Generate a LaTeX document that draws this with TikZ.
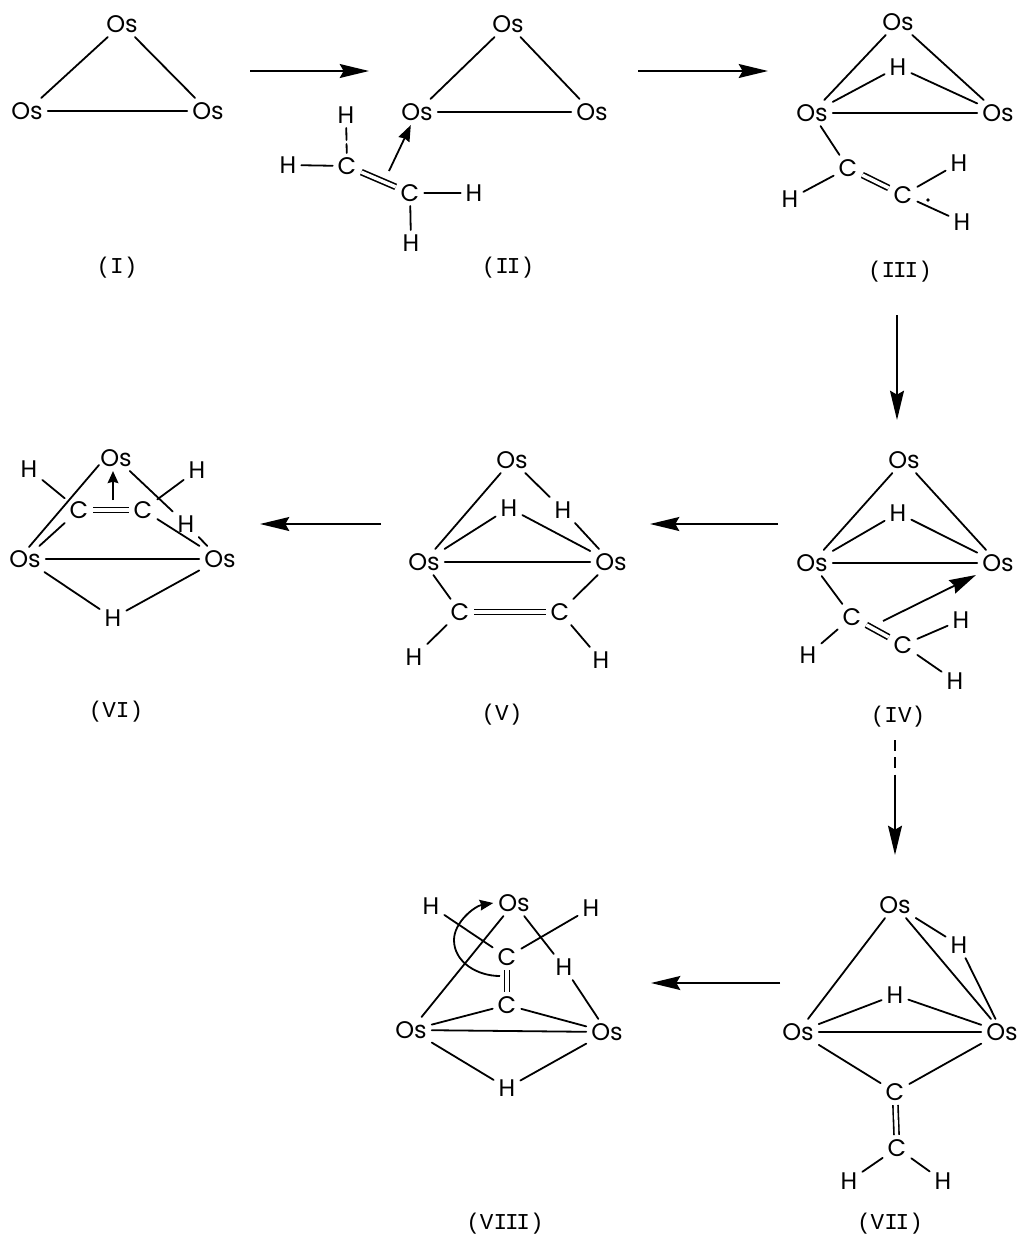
\documentclass[tikz,border=0pt]{standalone}
\usepackage{fontspec}
\setmainfont{Liberation Mono}
\newfontfamily\atomfont{Poppins}
\usetikzlibrary{arrows.meta}
\newcommand{\RN}{\kern-1.6pt}
\tikzset{
  x=0.75pt,y=-0.75pt,
  atom/.style={font=\atomfont\fontsize{18}{18}\selectfont,inner sep=3.8pt,outer sep=0pt,text height=12pt,text depth=0pt},
  lab/.style={font=\fontsize{17}{17}\selectfont,inner sep=0pt},
  bond/.style={line width=1.35pt,line cap=round},
  dbl/.style={line width=1.2pt,double,double distance=2.6pt},
  rxn/.style={line width=1.2pt,-{Stealth[length=22pt,width=10.5pt,inset=3pt]}},
  push/.style={line width=1.35pt,-{Stealth[length=12pt,width=9pt,inset=1pt]}},
}
\begin{document}
\begin{tikzpicture}
\useasboundingbox (0,0) rectangle (1021,1236);
% I
\node[atom] (It) at (122,24) {Os};
\node[atom] (Il) at (27,111) {Os};
\node[atom] (Ir) at (208,111) {Os};
\node[lab] (Ilab) at (117,268) {(I)};
\draw[bond] (Il)--(It); \draw[bond] (It)--(Ir); \draw[bond] (Il)--(Ir);
% arrow I-II
\coordinate (a1s) at (250,71); \coordinate (a1e) at (369,71);
\draw[rxn] (a1s)--(a1e);
% II
\node[atom] (IIt) at (508,24) {Os};
\node[atom] (IIl) at (417,112) {Os};
\node[atom] (IIr) at (592,112) {Os};
\node[atom] (IIc1) at (347,166) {C};
\node[atom] (IIc2) at (410,193) {C};
\node[atom] (IIh1) at (346,115) {H};
\node[atom] (IIh2) at (288,165) {H};
\node[atom] (IIh3) at (474,193) {H};
\node[atom] (IIh4) at (411,243) {H};
\node[lab] (IIlab) at (508,268) {(I\RN I)};
\draw[bond] (IIl)--(IIt); \draw[bond] (IIt)--(IIr); \draw[bond] (IIl)--(IIr);
\draw[dbl] (IIc1)--(IIc2);
\draw[bond,dash pattern=on 9pt off 3pt] (IIh1)--(IIc1);
\draw[bond] (IIh2)--(IIc1); \draw[bond] (IIc2)--(IIh3); \draw[bond] (IIc2)--(IIh4);
\coordinate (IIa) at (389,171);
\draw[push] (IIa)--(IIl);
% arrow II-III
\coordinate (a2s) at (638,71); \coordinate (a2e) at (768,71);
\draw[rxn] (a2s)--(a2e);
% III
\node[atom] (IIIt) at (898,22) {Os};
\node[atom] (IIIl) at (812,113) {Os};
\node[atom] (IIIr) at (998,113) {Os};
\node[atom] (IIIh) at (898,67) {H};
\node[atom] (IIIc1) at (848,168) {C};
\node[atom] (IIIc2) at (903,195) {C};
\node[atom] (IIIh1) at (959,163) {H};
\node[atom] (IIIh2) at (790,199) {H};
\node[atom] (IIIh3) at (962,222) {H};
\node[lab] (IIIlab) at (900,272) {(I\RN I\RN I)};
\draw[bond] (IIIl)--(IIIt); \draw[bond] (IIIt)--(IIIr); \draw[bond] (IIIl)--(IIIr);
\draw[bond] (IIIl)--(IIIh); \draw[bond] (IIIh)--(IIIr);
\draw[bond] (IIIl)--(IIIc1); \draw[dbl] (IIIc1)--(IIIc2);
\draw[bond] (IIIc1)--(IIIh2); \draw[bond] (IIIc2)--(IIIh1); \draw[bond] (IIIc2)--(IIIh3);
\coordinate (IIIdot) at (928,200);
\fill (IIIdot) circle (1.8);
% arrow III-IV
\coordinate (a3s) at (897,315); \coordinate (a3e) at (897,420);
\draw[rxn] (a3s)--(a3e);
% IV
\node[atom] (IVt) at (904,460) {Os};
\node[atom] (IVl) at (812,563) {Os};
\node[atom] (IVr) at (998,563) {Os};
\node[atom] (IVh) at (898,513) {H};
\node[atom] (IVc1) at (852,617) {C};
\node[atom] (IVc2) at (903,645) {C};
\node[atom] (IVh1) at (961,620) {H};
\node[atom] (IVh2) at (808,655) {H};
\node[atom] (IVh3) at (955,681) {H};
\node[lab] (IVlab) at (898,717) {(IV)};
\draw[bond] (IVl)--(IVt); \draw[bond] (IVt)--(IVr); \draw[bond] (IVl)--(IVr);
\draw[bond] (IVl)--(IVh); \draw[bond] (IVh)--(IVr);
\draw[bond] (IVl)--(IVc1); \draw[dbl] (IVc1)--(IVc2);
\draw[bond] (IVc1)--(IVh2); \draw[bond] (IVc2)--(IVh1); \draw[bond] (IVc2)--(IVh3);
\coordinate (IVa) at (883,621); \coordinate (IVb) at (976,575);
\draw[line width=1.35pt,-{Stealth[length=20pt,width=11pt,inset=2pt]}] (IVa)--(IVb);
% arrow IV-V
\coordinate (a4s) at (778,524); \coordinate (a4e) at (650,524);
\draw[rxn] (a4s)--(a4e);
% V
\node[atom] (Vt) at (512,460) {Os};
\node[atom] (Vl) at (424,562) {Os};
\node[atom] (Vr) at (611,562) {Os};
\node[atom] (Vh1) at (509,508) {H};
\node[atom] (Vh2) at (563,510) {H};
\node[atom] (Vc1) at (460,612) {C};
\node[atom] (Vc2) at (560,612) {C};
\node[atom] (Vh3) at (414,657) {H};
\node[atom] (Vh4) at (601,660) {H};
\node[lab] (Vlab) at (502,715) {(V)};
\draw[bond] (Vl)--(Vt); \draw[bond] (Vt)--(Vh2); \draw[bond] (Vh2)--(Vr);
\draw[bond] (Vl)--(Vh1); \draw[bond] (Vh1)--(Vr); \draw[bond] (Vl)--(Vr);
\draw[bond] (Vl)--(Vc1); \draw[dbl] (Vc1)--(Vc2); \draw[bond] (Vc2)--(Vr);
\draw[bond] (Vc1)--(Vh3); \draw[bond] (Vc2)--(Vh4);
% arrow V-VI
\coordinate (a5s) at (381,524); \coordinate (a5e) at (260,524);
\draw[rxn] (a5s)--(a5e);
% VI
\node[atom] (VIt) at (116,458) {Os};
\node[atom] (VIl) at (25,559) {Os};
\node[atom] (VIr) at (220,559) {Os};
\node[atom] (VIc1) at (79,510) {C};
\node[atom] (VIc2) at (143,510) {C};
\node[atom] (VIh1) at (29,469) {H};
\node[atom] (VIh2) at (197,470) {H};
\node[atom] (VIh3) at (186,524) {H};
\node[atom] (VIh4) at (113,618) {H};
\node[lab] (VIlab) at (116,712) {(VI)};
\coordinate (VIsa) at (29,547); \coordinate (VIsb) at (99,465);
\draw[bond] (VIsa)--(VIsb);
\draw[bond] (VIl)--(VIc1); \draw[dbl] (VIc1)--(VIc2);
\draw[bond] (VIc2)--(VIr); \draw[bond] (VIc1)--(VIh1); \draw[bond] (VIc2)--(VIh2);
\draw[bond] (VIt)--(VIh3); \draw[bond] (VIh3)--(VIr); \draw[bond] (VIl)--(VIr);
\draw[bond] (VIl)--(VIh4); \draw[bond] (VIh4)--(VIr);
\coordinate (VIa) at (113,500);
\draw[line width=1.35pt,-{Stealth[length=9pt,width=8pt,inset=1pt]}] (VIa)--(VIa|-VIt.south);
% arrow IV-VII
\coordinate (a6s) at (895,740); \coordinate (a6m) at (895,778); \coordinate (a6e) at (895,855);
\draw[line width=1.2pt,dash pattern=on 8pt off 5pt] (a6s)--(a6m);
\draw[rxn] (a6m)--(a6e);
% VII
\node[atom] (VIIt) at (895,905) {Os};
\node[atom] (VIIl) at (798,1032) {Os};
\node[atom] (VIIr) at (1002,1032) {Os};
\node[atom] (VIIh1) at (959,945) {H};
\node[atom] (VIIh2) at (895,995) {H};
\node[atom] (VIIc1) at (895,1092) {C};
\node[atom] (VIIc2) at (897,1148) {C};
\node[atom] (VIIh3) at (849,1181) {H};
\node[atom] (VIIh4) at (943,1181) {H};
\node[lab] (VIIlab) at (890,1224) {(VI\RN I)};
\draw[bond] (VIIl)--(VIIt); \draw[bond] (VIIt)--(VIIr); \draw[bond] (VIIl)--(VIIr);
\draw[bond] (VIIt)--(VIIh1); \draw[bond] (VIIh1)--(VIIr);
\draw[bond] (VIIl)--(VIIh2); \draw[bond] (VIIh2)--(VIIr);
\draw[bond] (VIIl)--(VIIc1); \draw[bond] (VIIc1)--(VIIr);
\draw[dbl] (VIIc1)--(VIIc2);
\draw[bond] (VIIc2)--(VIIh3); \draw[bond] (VIIc2)--(VIIh4);
% arrow VII-VIII
\coordinate (a7s) at (780,983); \coordinate (a7e) at (651,983);
\draw[rxn] (a7s)--(a7e);
% VIII
\node[atom] (VIIIt) at (514,903) {Os};
\node[atom] (VIIIl) at (411,1030) {Os};
\node[atom] (VIIIr) at (607,1032) {Os};
\node[atom] (VIIIh1) at (431,906) {H};
\node[atom] (VIIIh2) at (591,908) {H};
\node[atom] (VIIIc1) at (507,957) {C};
\node[atom] (VIIIh3) at (564,967) {H};
\node[atom] (VIIIc2) at (507,1005) {C};
\node[atom] (VIIIh4) at (507,1088) {H};
\node[lab] (VIIIlab) at (505,1224) {(VI\RN I\RN I)};
\draw[bond] (VIIIl)--(VIIIt); \draw[bond] (VIIIl)--(VIIIr);
\draw[bond] (VIIIl)--(VIIIc2); \draw[bond] (VIIIc2)--(VIIIr);
\draw[dbl] (VIIIc1)--(VIIIc2);
\draw[bond] (VIIIh1)--(VIIIc1); \draw[bond] (VIIIc1)--(VIIIh2);
\draw[bond] (VIIIt)--(VIIIh3); \draw[bond] (VIIIh3)--(VIIIr);
\draw[bond] (VIIIl)--(VIIIh4); \draw[bond] (VIIIh4)--(VIIIr);
\coordinate (VIIIa) at (500,976); \coordinate (VIIIb) at (454,940);
\draw[line width=1.35pt,-{Stealth[length=10pt,width=8pt,inset=1pt]}]
  (VIIIa) .. controls (477,976) and (454,962) .. (VIIIb)
  .. controls (454,922) and (475,906) .. (VIIIt.west);
\end{tikzpicture}
\end{document}
